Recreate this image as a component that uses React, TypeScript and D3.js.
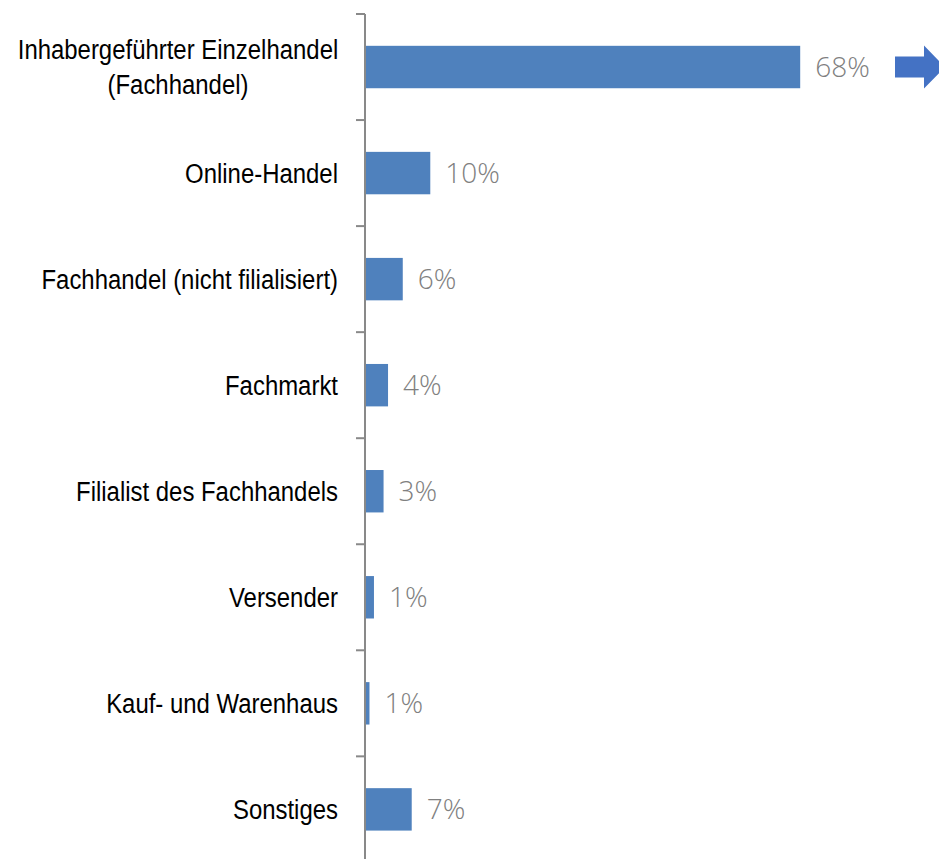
import React, { useEffect, useRef } from 'react';
import * as d3 from 'd3';

const categories = [
  'Inhabergeführter Einzelhandel|(Fachhandel)',
  'Online-Handel',
  'Fachhandel (nicht filialisiert)',
  'Fachmarkt',
  'Filialist des Fachhandels',
  'Versender',
  'Kauf- und Warenhaus',
  'Sonstiges',
];
const values = [68, 10.2, 5.9, 3.6, 2.9, 1.4, 0.7, 7.3];
const valueLabels = ['68%', '10%', '6%', '4%', '3%', '1%', '1%', '7%'];

const App = () => {
  const ref = useRef<SVGSVGElement>(null);

  useEffect(() => {
    const svg = d3.select(ref.current);
    svg.selectAll('*').remove();

    const axisX = 365;
    const top = 14;
    const band = 106.05;

    const x = d3.scaleLinear().domain([0, 100]).range([axisX, axisX + 640]);
    const y = d3.scaleBand()
      .domain(categories)
      .range([top, top + band * categories.length])
      .paddingInner(0.6)
      .paddingOuter(0.3);

    // bars
    svg.selectAll('rect.bar')
      .data(values)
      .enter()
      .append('rect')
      .attr('class', 'bar')
      .attr('x', x(0))
      .attr('y', (d, i) => y(categories[i]))
      .attr('width', d => x(d) - x(0))
      .attr('height', y.bandwidth())
      .attr('fill', '#4f81bd');

    // value labels
    svg.selectAll('text.val')
      .data(values)
      .enter()
      .append('text')
      .attr('class', 'val')
      .attr('x', d => x(d) + 15)
      .attr('y', (d, i) => y(categories[i]) + y.bandwidth() / 2)
      .attr('dy', '0.36em')
      .attr('font-family', '"Open Sans", sans-serif')
      .attr('font-weight', 300)
      .attr('font-size', 28)
      .attr('fill', '#808080')
      .text((d, i) => valueLabels[i]);

    // axis line + ticks
    svg.append('line')
      .attr('x1', axisX).attr('x2', axisX)
      .attr('y1', top).attr('y2', 859)
      .attr('stroke', '#898989').attr('stroke-width', 2);

    const ticks = d3.range(categories.length + 1).map(i => top + i * band);
    svg.selectAll('line.tick')
      .data(ticks)
      .enter()
      .append('line')
      .attr('class', 'tick')
      .attr('x1', axisX - 9).attr('x2', axisX)
      .attr('y1', d => d).attr('y2', d => d)
      .attr('stroke', '#898989').attr('stroke-width', 2);

    // category labels (narrow look: horizontally squeezed Liberation Sans)
    const sx = 0.855;
    svg.selectAll('g.cat')
      .data(categories)
      .enter()
      .append('g')
      .attr('class', 'cat')
      .each(function (d) {
        const lines = d.split('|');
        const multi = lines.length > 1;
        const cy = y(d) + y.bandwidth() / 2;
        const g = d3.select(this)
          .attr('transform', `translate(${multi ? 178 : 338},${cy}) scale(${sx},1)`);
        const lh = 35;
        const t = g.append('text')
          .attr('text-anchor', multi ? 'middle' : 'end')
          .attr('font-family', '"Liberation Sans", Arial, sans-serif')
          .attr('font-size', 28)
          .attr('fill', '#000');
        lines.forEach((l, j) => {
          t.append('tspan')
            .attr('x', 0)
            .attr('y', (j - (lines.length - 1) / 2) * lh)
            .attr('dy', '0.35em')
            .text(l);
        });
      });

    // arrow next to the top bar
    const ay = y(categories[0]) + y.bandwidth() / 2;
    svg.append('path')
      .attr('d', `M895,${ay - 10.5} L924,${ay - 10.5} L924,${ay - 21.5} L945,${ay} L924,${ay + 21.5} L924,${ay + 10.5} L895,${ay + 10.5} Z`)
      .attr('fill', '#4472c4');
  }, []);

  return (
    <svg ref={ref} width={939} height={859} style={{ position: 'absolute', left: 0, top: 0 }} />
  );
};

export default App;
